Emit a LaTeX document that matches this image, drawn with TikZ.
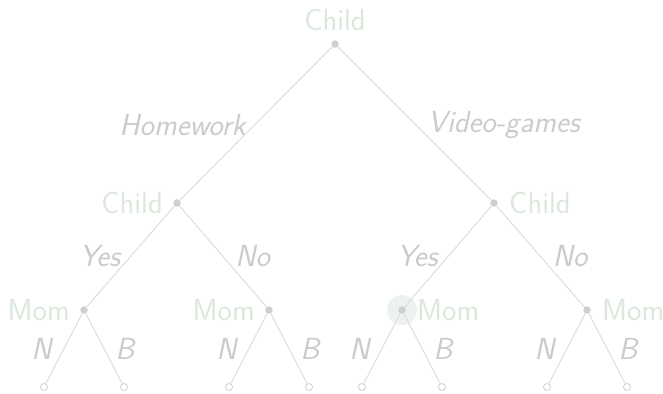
\documentclass[tikz,border=0pt]{standalone}
\begin{document}
\begin{tikzpicture}[x=1pt,y=-1pt,
  edge/.style={draw=linegray,line width=0.9pt},
  dec/.style={circle,fill=dotgray,inner sep=0pt,minimum size=7.5pt},
  leaf/.style={circle,draw=dotgray,fill=white,line width=0.8pt,inner sep=0pt,minimum size=7pt},
  player/.style={text=namegreen,inner sep=0pt,font=\fontsize{30.5}{34}\selectfont\sffamily},
  act/.style={text=labelgray,inner sep=0pt,font=\fontsize{30.5}{34}\selectfont\sffamily\itshape}]
\definecolor{linegray}{HTML}{DADADA}
\definecolor{dotgray}{HTML}{CFCFCF}
\definecolor{labelgray}{HTML}{CBCBCB}
\definecolor{namegreen}{HTML}{DCE8DC}
\definecolor{hl}{HTML}{EEF2EE}
\useasboundingbox (0,0) rectangle (663,393);
\fill[hl] (402,310) circle (15);
% nodes
\node[dec] (r) at (335,44) {};
\node[dec] (c1) at (177,203) {};
\node[dec] (c2) at (494,203) {};
\node[dec] (m1) at (84,310) {};
\node[dec] (m2) at (269,310) {};
\node[dec] (m3) at (402,310) {};
\node[dec] (m4) at (587,310) {};
\node[leaf] (l1) at (44,387) {};
\node[leaf] (l2) at (124,387) {};
\node[leaf] (l3) at (229,387) {};
\node[leaf] (l4) at (309,387) {};
\node[leaf] (l5) at (362,387) {};
\node[leaf] (l6) at (442,387) {};
\node[leaf] (l7) at (547,387) {};
\node[leaf] (l8) at (627,387) {};
% player names
\node[player,anchor=base] (nr) at (335,31) {Child};
\node[player,anchor=east] (nc1) at (163,203) {Child};
\node[player,anchor=west] (nc2) at (509,203) {Child};
\node[player,anchor=east] (nm1) at (70,310) {Mom};
\node[player,anchor=east] (nm2) at (255,310) {Mom};
\node[player,anchor=west] (nm3) at (417,310) {Mom};
\node[player,anchor=west] (nm4) at (602,310) {Mom};
% edges
\draw[edge] (r) -- node[act,anchor=east,xshift=-10pt,yshift=-2pt] {Homework} (c1);
\draw[edge] (r) -- node[act,anchor=west,xshift=13pt,yshift=-2pt] {Video-games} (c2);
\draw[edge] (c1) -- node[act,anchor=east,xshift=-10pt] {Yes} (m1);
\draw[edge] (c1) -- node[act,anchor=west,xshift=12pt] {No} (m2);
\draw[edge] (c2) -- node[act,anchor=east,xshift=-10pt] {Yes} (m3);
\draw[edge] (c2) -- node[act,anchor=west,xshift=12pt] {No} (m4);
\draw[edge] (m1) -- node[act,anchor=east,xshift=-12pt] {N} (l1);
\draw[edge] (m1) -- node[act,anchor=west,xshift=11pt] {B} (l2);
\draw[edge] (m2) -- node[act,anchor=east,xshift=-12pt] {N} (l3);
\draw[edge] (m2) -- node[act,anchor=west,xshift=11pt] {B} (l4);
\draw[edge] (m3) -- node[act,anchor=east,xshift=-12pt] {N} (l5);
\draw[edge] (m3) -- node[act,anchor=west,xshift=11pt] {B} (l6);
\draw[edge] (m4) -- node[act,anchor=east,xshift=-12pt] {N} (l7);
\draw[edge] (m4) -- node[act,anchor=west,xshift=11pt] {B} (l8);
\end{tikzpicture}
\end{document}
